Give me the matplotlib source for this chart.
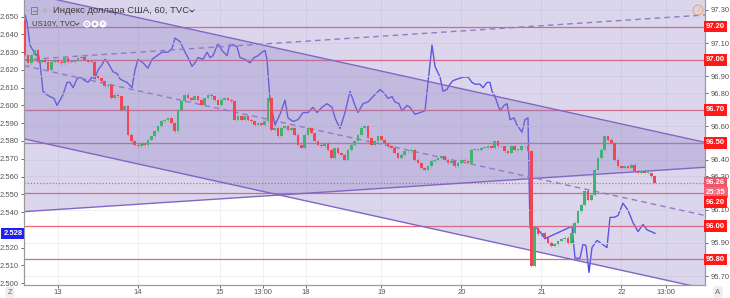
import numpy as np
import matplotlib.pyplot as plt
from matplotlib.patches import Rectangle, Ellipse
from matplotlib.ticker import FixedFormatter, FixedLocator

plt.rcParams['font.family'] = ['Liberation Sans', 'DejaVu Sans']

# Индекс доллара США, 60 мин (правая шкала); бар 0 = 13-е, 00:00
dxy_open0 = 97.24
dxy_close = [
    97.03, 96.98, 97.03, 97.06, 96.99, 97.00, 96.99, 96.94, 96.99, 97.00,
    96.99, 96.98, 97.01, 96.99, 96.99, 97.00, 97.01, 97.02, 97.00, 96.99,
    96.99, 96.90, 96.89, 96.87, 96.84, 96.85, 96.77, 96.79, 96.78, 96.70,
    96.72, 96.55, 96.51, 96.49, 96.48, 96.50, 96.49, 96.52, 96.54, 96.57,
    96.60, 96.63, 96.64, 96.65, 96.62, 96.57, 96.70, 96.75, 96.79, 96.77,
    96.76, 96.78, 96.76, 96.73, 96.77, 96.79, 96.78, 96.76, 96.73, 96.76,
    96.77, 96.76, 96.75, 96.64, 96.66, 96.64, 96.66, 96.64, 96.63, 96.61,
    96.62, 96.61, 96.63, 96.77, 96.58, 96.59, 96.54, 96.59, 96.60, 96.58,
    96.59, 96.55, 96.49, 96.47, 96.55, 96.59, 96.56, 96.51, 96.49, 96.48,
    96.50, 96.46, 96.41, 96.47, 96.44, 96.43, 96.40, 96.46, 96.49, 96.51,
    96.55, 96.59, 96.60, 96.53, 96.49, 96.51, 96.54, 96.52, 96.50, 96.48,
    96.47, 96.44, 96.41, 96.43, 96.45, 96.45, 96.46, 96.40, 96.38, 96.35,
    96.34, 96.36, 96.39, 96.40, 96.41, 96.42, 96.40, 96.38, 96.39, 96.36,
    96.38, 96.40, 96.39, 96.38, 96.46, 96.46, 96.46, 96.47, 96.47, 96.48,
    96.47, 96.51, 96.48, 96.48, 96.45, 96.44, 96.48, 96.46, 96.46, 96.48,
    96.48, 96.45, 95.76, 95.99, 95.95, 95.96, 95.93, 95.90, 95.88, 95.89,
    95.91, 95.92, 95.93, 95.90, 95.96, 96.02, 96.09, 96.13, 96.21, 96.16,
    96.19, 96.34, 96.41, 96.46, 96.54, 96.52, 96.50, 96.40, 96.36, 96.35,
    96.36, 96.35, 96.37, 96.33, 96.32, 96.33, 96.32, 96.32, 96.30, 96.26,
]
first_bar = -10

# US10Y (левая шкала)
us10y_bar = [-9.9, -9.3, -8.4, -7.5, -6.6, -6.0, -5.4, -4.5, -3.3, -2.4, -1.2, -0.3, 0.6, 1.5,
             2.7, 3.6, 4.5, 5.7, 6.6, 8.1, 9.0, 10.2, 11.1, 12.0, 13.2, 14.1, 15.0, 16.5,
             17.7, 18.6, 19.5, 20.7, 22.2, 23.1, 24.0, 25.5, 27.0, 28.2, 29.7, 31.2, 32.1,
             33.0, 34.2, 35.1, 36.6, 38.1, 39.0, 40.2, 41.1, 42.0, 43.5, 44.7, 45.6, 46.5,
             48.0, 49.2, 50.7, 51.6, 52.8, 53.7, 54.6, 56.1, 57.6, 58.8, 60.0, 61.2, 62.1,
             62.7, 63.6, 65.1, 66.6, 68.1, 69.0, 70.5, 72.0, 73.5, 75.0, 76.5, 77.7, 79.2,
             80.7, 82.2, 83.1, 84.6, 86.1, 87.6, 89.1, 90.0, 91.5, 93.0, 94.5, 96.6, 97.8,
             99.0, 100.2, 101.1, 102.3, 103.2, 104.7, 105.6, 107.1, 108.6, 110.1, 111.0,
             112.2, 113.1, 114.6, 115.5, 116.7, 117.6, 118.5, 120.0, 121.5, 123.0, 124.2,
             125.1, 126.6, 127.5, 128.7, 129.6, 130.2, 131.1, 132.6, 133.8, 134.7, 135.6,
             136.8, 137.7, 139.2, 140.1, 141.0, 141.6, 142.5, 143.7, 146.1, 154.2, 155.1,
             156.6, 157.5, 158.4, 159.3, 160.2, 161.7, 163.2, 164.7, 165.6, 166.8, 168.0,
             169.5, 171.0, 172.5, 174.0, 175.5, 176.7, 177.9, 179.1]
us10y_val = [2.651, 2.647, 2.634, 2.631, 2.628, 2.630, 2.624, 2.608, 2.606, 2.605, 2.604, 2.600,
             2.603, 2.606, 2.613, 2.613, 2.610, 2.615, 2.616, 2.614, 2.613, 2.616, 2.615, 2.620,
             2.623, 2.626, 2.624, 2.619, 2.618, 2.615, 2.614, 2.613, 2.610, 2.620, 2.626, 2.624,
             2.621, 2.626, 2.628, 2.630, 2.630, 2.630, 2.632, 2.638, 2.636, 2.630, 2.627, 2.622,
             2.624, 2.627, 2.626, 2.630, 2.627, 2.628, 2.635, 2.631, 2.628, 2.635, 2.634, 2.633,
             2.627, 2.626, 2.624, 2.627, 2.628, 2.630, 2.631, 2.626, 2.603, 2.589, 2.595, 2.603,
             2.593, 2.591, 2.592, 2.596, 2.596, 2.599, 2.596, 2.599, 2.601, 2.599, 2.593, 2.587,
             2.596, 2.608, 2.600, 2.596, 2.601, 2.602, 2.605, 2.609, 2.607, 2.604, 2.605, 2.602,
             2.601, 2.597, 2.600, 2.599, 2.595, 2.596, 2.597, 2.613, 2.634, 2.622, 2.616, 2.608,
             2.609, 2.612, 2.614, 2.615, 2.616, 2.616, 2.613, 2.612, 2.612, 2.610, 2.613, 2.613,
             2.608, 2.605, 2.597, 2.600, 2.601, 2.592, 2.593, 2.589, 2.585, 2.592, 2.593, 2.531,
             2.531, 2.531, 2.525, 2.532, 2.514, 2.514, 2.522, 2.521, 2.506, 2.520, 2.524, 2.522,
             2.520, 2.537, 2.537, 2.538, 2.545, 2.541, 2.534, 2.529, 2.533, 2.530, 2.529, 2.528]
us10y_last = 2.528

levels = [97.20, 97.00, 96.70, 96.50, 96.20, 96.00, 95.80]
dxy_last = 96.26
countdown = '25:35'

# каналы (точки привязки: бар, цена)
chan_bars = [-10.2, 194.1]
desc_top = [97.405, 96.504]
desc_bot = [96.525, 95.624]
asc_top = [97.915, 98.186]
asc_bot = [96.087, 96.354]

day_pos = [0, 24, 48.6, 61.5, 74.4, 97, 121, 145, 169, 182.4]
day_lbl = ['13', '14', '15', '13:00', '18', '19', '20', '21', '22', '13:00']

W, H = 730, 298
fig = plt.figure(figsize=(W / 100, H / 100), dpi=100)
fig.patch.set_facecolor('white')
ax = fig.add_axes([24 / W, 13 / H, 681 / W, 285 / H])
ax2 = ax.twinx()

ax.set_xlim(chan_bars[0], chan_bars[1])
ax.set_ylim(2.4989, 2.6594)
ax2.set_ylim(95.646, 97.36)

grid_c = '#edf1f5'
ax.set_xticks(day_pos)
ax.set_xticklabels(day_lbl)
ax.grid(axis='x', color=grid_c, lw=0.8)
ax.set_axisbelow(True)
lt = np.round(np.arange(2.50, 2.651, 0.01), 2)
ax.set_yticks(lt)
ax.set_yticklabels(['' if abs(v - 2.53) < 1e-6 else '%.3f' % v for v in lt])

rt = np.round(np.arange(95.70, 97.31, 0.1), 2)
ax2.yaxis.set_major_locator(FixedLocator(rt))
ax2.yaxis.set_major_formatter(FixedFormatter(['' if v in levels else '%.2f' % v for v in rt]))
ax2.grid(axis='y', color=grid_c, lw=0.8, zorder=0)
ax2.set_axisbelow(True)

for a in (ax, ax2):
    a.tick_params(labelsize=5.5, colors='#555555', length=2.5, width=0.6, pad=1.5)
    for s in a.spines.values():
        s.set_color('#9a9a9a')
        s.set_linewidth(0.8)
    a.spines['top'].set_visible(False)
ax.tick_params(axis='x', length=2, pad=1)

# US10Y
ax.plot(us10y_bar, us10y_val, color='#4646f0', lw=1.0, zorder=3)

# уровни
for lv in levels:
    ax2.axhline(lv, color='#f23645', lw=0.9, alpha=0.75, zorder=1)
ax2.axhline(dxy_last, color='#f23645', lw=0.9, alpha=0.8, ls=(0, (1, 1.5)), zorder=1)

# каналы
fill_c = '#8b7ac2'
ax2.fill_between(chan_bars, desc_bot, desc_top, color=fill_c, alpha=0.3, lw=0, zorder=2)
ax2.fill_between(chan_bars, asc_bot, asc_top, color=fill_c, alpha=0.3, lw=0, zorder=2)
line_c = '#8366c4'
for ys in (desc_top, desc_bot, asc_bot):
    ax2.plot(chan_bars, ys, color=line_c, lw=1.0, zorder=2.5)
desc_mid = [(a + b) / 2 for a, b in zip(desc_top, desc_bot)]
asc_mid = [(a + b) / 2 for a, b in zip(asc_top, asc_bot)]
for ys in (desc_mid, asc_mid):
    ax2.plot(chan_bars, ys, color='#8f7cc8', lw=1.0, ls=(0, (4, 3)), zorder=2.5)

# свечи
closes = np.array(dxy_close)
opens = np.concatenate([[dxy_open0], closes[:-1]])
bars = np.arange(first_bar, first_bar + len(closes))
up = closes >= opens
cols = np.where(up, '#3fb472', '#ef4756')
lo = np.minimum(opens, closes)
hi = np.maximum(opens, closes)
ax2.vlines(bars, lo - 0.008, hi + 0.008, colors=cols, lw=0.5, alpha=0.6, zorder=3)
ax2.bar(bars, np.maximum(hi - lo, 0.004), bottom=lo, width=0.72, color=cols, lw=0, zorder=3.5)

# метки правой шкалы
def rlabel(y, txt, fc):
    ax2.text(1.0015, y, txt, transform=ax2.get_yaxis_transform(), ha='left', va='center',
             fontsize=5.5, color='white', fontweight='bold', clip_on=False, zorder=10,
             bbox=dict(boxstyle='square,pad=0.3', fc=fc, ec='none'))

for lv in levels:
    if lv != 96.20:
        rlabel(lv, '%.2f' % lv, '#ff1a1a')
rlabel(dxy_last, '%.2f' % dxy_last, '#f0566a')
rlabel(96.203, countdown, '#f0697a')
rlabel(96.145, '96.20', '#ff1a1a')

ax.text(-0.002, us10y_last, '%.3f' % us10y_last, transform=ax.get_yaxis_transform(),
        ha='right', va='center', fontsize=5.5, color='white', fontweight='bold', clip_on=False,
        zorder=10, bbox=dict(boxstyle='square,pad=0.3', fc='#1e1ef5', ec='none'))

# легенда
def fx(p):
    return p / W

def fy(p):
    return 1 - p / H

def dot(px, py, r, **kw):
    fig.patches.append(Ellipse((fx(px), fy(py)), 2 * r / W, 2 * r / H,
                               transform=fig.transFigure, **kw))

fig.patches.append(Rectangle((fx(31), fy(14)), 6 / W, 7 / H, transform=fig.transFigure,
                             fill=False, ec='#777777', lw=0.6))
fig.lines.append(plt.Line2D([fx(32.5), fx(35.5)], [fy(10.5), fy(10.5)], transform=fig.transFigure,
                            color='#777777', lw=0.6))
fig.patches.append(Rectangle((fx(43), fy(13)), 4 / W, 5 / H, transform=fig.transFigure,
                             fc='#b8b3c8', ec='none'))
fig.text(fx(53), fy(10.5), 'Индекс доллара США, 60, TVC', fontsize=6.8, color='#3c3c3c', va='center')
fig.lines.append(plt.Line2D([fx(190), fx(192), fx(194)], [fy(10), fy(12), fy(10)],
                            transform=fig.transFigure, color='#3c3c3c', lw=0.7))
fig.text(fx(32), fy(24), 'US10Y, TVC', fontsize=5.6, color='#3c3c3c', va='center')
fig.lines.append(plt.Line2D([fx(75), fx(77), fx(79)], [fy(23), fy(25), fy(23)],
                            transform=fig.transFigure, color='#3c3c3c', lw=0.6))
for px in (87, 95, 103):
    dot(px, 24, 3.5, fc='white', ec='none')
dot(87, 24, 1.4, fc='none', ec='#a9a3bf', lw=0.6)
dot(95, 24, 1.4, fc='#a9a3bf', ec='none')
fig.text(fx(103), fy(24), '×', fontsize=5, color='#a9a3bf', ha='center', va='center')

# значки по краям
dot(698, 10, 5, fill=False, ec='#f5a36a', lw=0.8)
fig.text(fx(698), fy(10), '!', fontsize=5, color='#f5a36a', ha='center', va='center')
fig.text(fx(10), fy(292), 'Z', fontsize=5.5, color='#666666', ha='center', va='center',
         bbox=dict(boxstyle='round,pad=0.3', fc='#eeeeee', ec='none'))
fig.text(fx(718), fy(292), 'A', fontsize=5.5, color='#666666', ha='center', va='center',
         bbox=dict(boxstyle='round,pad=0.3', fc='#eeeeee', ec='none'))

fig.savefig('out.png', dpi=100)
